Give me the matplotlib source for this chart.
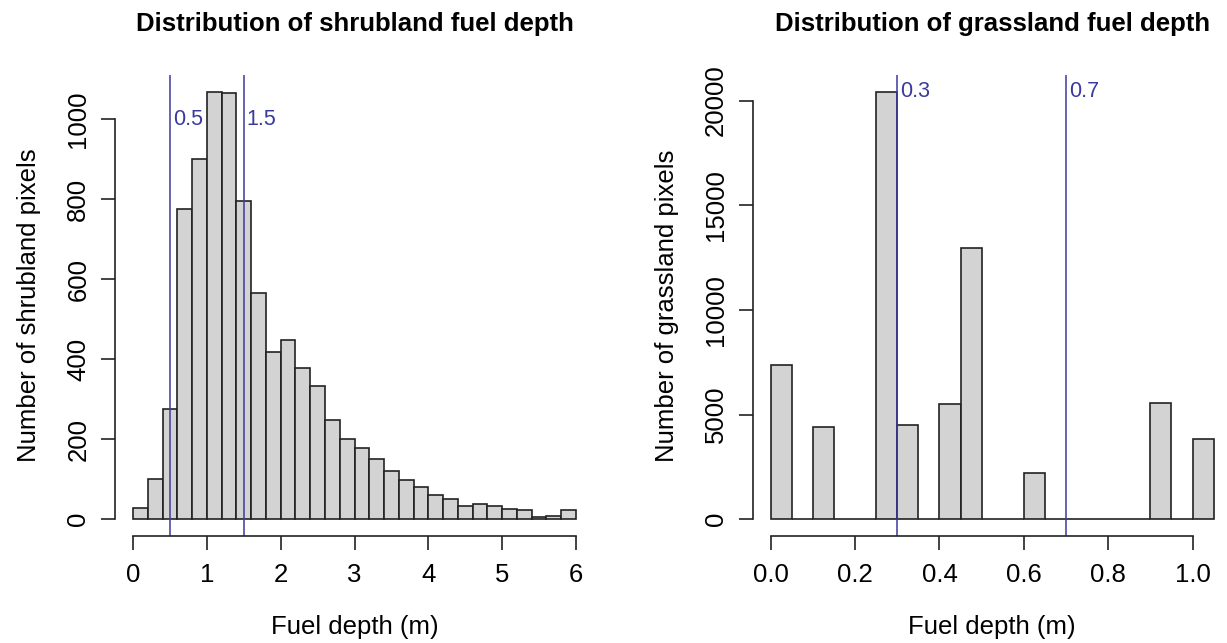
import numpy as np
import matplotlib
matplotlib.use("Agg")
import matplotlib.pyplot as plt

plt.rcParams["font.family"] = ["Liberation Sans", "DejaVu Sans"]

# shrubland histogram, bins of 0.2 m from 0 to 6
shrub_edges = np.linspace(0, 6, 31)
shrub_counts = [28, 100, 275, 775, 900, 1069, 1066, 797, 565, 418,
                447, 377, 332, 247, 200, 177, 151, 121, 99, 80,
                61, 51, 32, 38, 32, 26, 22, 6, 7, 22]
shrub_cuts = [0.5, 1.5]
shrub_yticks = [0, 200, 400, 600, 800, 1000]
shrub_xticks = [0, 1, 2, 3, 4, 5, 6]

# grassland histogram, bins of 0.05 m from 0 to 1.05
grass_edges = np.linspace(0, 1.05, 22)
grass_counts = [7390, 0, 4400, 0, 0, 20425, 4510, 0, 5500, 12980,
                0, 0, 2200, 0, 0, 0, 0, 0, 5560, 0, 3840]
grass_cuts = [0.3, 0.7]
grass_yticks = [0, 5000, 10000, 15000, 20000]
grass_xticks = [0.0, 0.2, 0.4, 0.6, 0.8, 1.0]

line_col = "#3a3a9e"
W, H = 1227, 643
FS = 18.5

fig = plt.figure(figsize=(W / 100, H / 100), dpi=100)


def panel(left_px, edges, counts, cuts, label_y, xticks, yticks, xfmt,
          title, ylabel):
    ax = fig.add_axes([left_px / W, 1 - 536.4 / H, 478.4 / W, 461.8 / H])
    widths = np.diff(edges)
    ax.bar(edges[:-1], counts, width=widths, align="edge",
           color="#d3d3d3", edgecolor="#222222", linewidth=1.2)
    lo, hi = edges[0], edges[-1]
    pad = (hi - lo) * 0.04
    ax.set_xlim(lo - pad, hi + pad)
    top = max(counts)
    ax.set_ylim(-top * 0.04, top * 1.04)
    for c in cuts:
        ax.axvline(c, color=line_col, linewidth=1.1)
        ax.annotate(str(c), (c, label_y), xytext=(2, 0),
                    textcoords="offset points", ha="left", va="center",
                    color=line_col, fontsize=15.5)
    for s in ["top", "right"]:
        ax.spines[s].set_visible(False)
    ax.spines["left"].set_bounds(yticks[0], yticks[-1])
    ax.spines["bottom"].set_bounds(xticks[0], xticks[-1])
    for s in ["left", "bottom"]:
        ax.spines[s].set_linewidth(1.2)
        ax.spines[s].set_color("#222222")
    ax.set_xticks(xticks)
    ax.set_xticklabels([xfmt.format(t) for t in xticks])
    ax.set_yticks(yticks)
    ax.set_yticklabels([str(t) for t in yticks], rotation=90, va="center")
    ax.tick_params(length=10, width=1.2, color="#222222", labelsize=FS)
    ax.tick_params(axis="x", pad=9)
    ax.tick_params(axis="y", pad=8)
    ax.set_xlabel("Fuel depth (m)", fontsize=FS, labelpad=20)
    ax.set_ylabel(ylabel, fontsize=FS, labelpad=18)
    ax.annotate(title, (0.5, 1 - 24 / H),
                xycoords=("axes fraction", "figure fraction"),
                ha="center", va="center", fontsize=FS, fontweight="bold")
    return ax


panel(115.3, shrub_edges, shrub_counts, shrub_cuts, 1000,
      shrub_xticks, shrub_yticks, "{:d}",
      "Distribution of shrubland fuel depth", "Number of shrubland pixels")
panel(753.0, grass_edges, grass_counts, grass_cuts, 20425,
      grass_xticks, grass_yticks, "{:.1f}",
      "Distribution of grassland fuel depth", "Number of grassland pixels")

fig.savefig("out.png", dpi=100)
